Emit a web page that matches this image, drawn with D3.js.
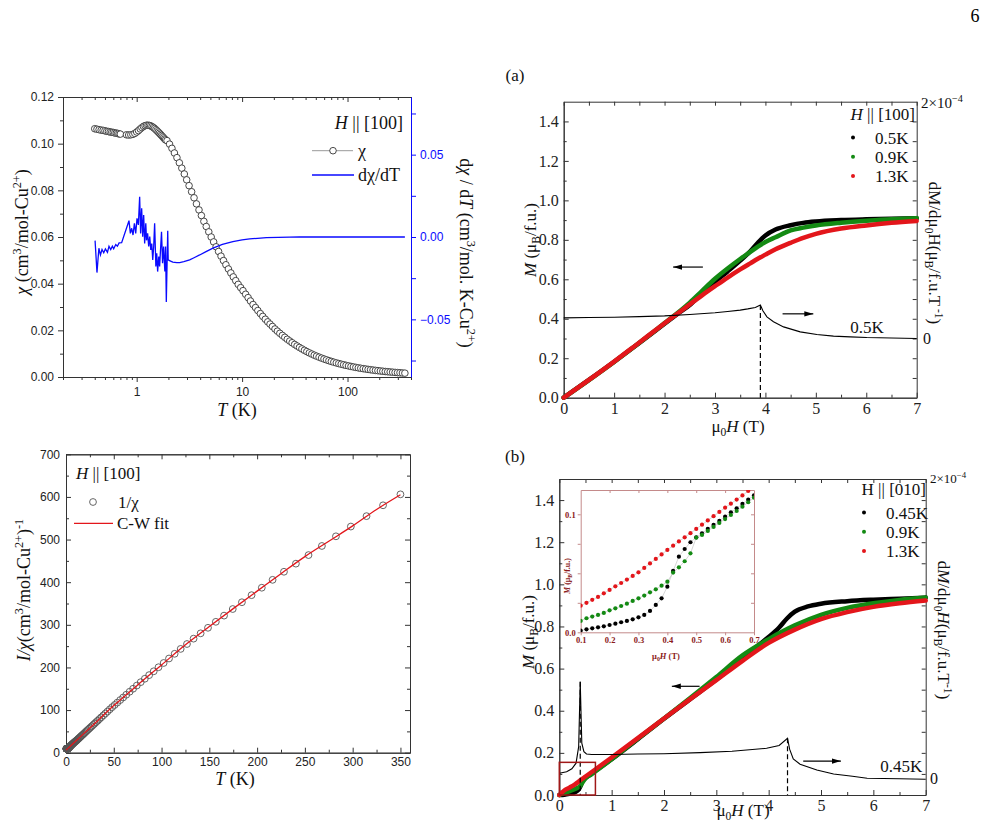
<!DOCTYPE html>
<html>
<head>
<meta charset="utf-8">
<script src="https://cdn.jsdelivr.net/npm/d3@7"></script>
<style>
  body { margin: 0; background: #fff; }
  svg { display: block; }
</style>
</head>
<body>
<svg id="fig" width="994" height="822"></svg>
<script>
// ---- susceptibility chi(T), H || [100] ----
const chiT = [
  0.40, 0.42, 0.44, 0.46, 0.48, 0.50, 0.52, 0.54, 0.56, 0.58, 0.60, 0.62, 0.64, 0.66, 0.68, 0.70,
  0.80, 0.84, 0.88, 0.92, 0.96, 1.00, 1.04, 1.08, 1.12, 1.16, 1.20, 1.24, 1.28, 1.32, 1.36, 1.40,
  1.44, 1.48, 1.52, 1.56, 1.60, 1.64, 1.68, 1.72, 1.76, 1.80, 1.84, 1.88,
  1.94, 2.05, 2.16, 2.28, 2.41, 2.54, 2.68, 2.83, 2.98, 3.14, 3.32, 3.50, 3.69, 3.90, 4.11, 4.34,
  4.57, 4.83, 5.09, 5.37, 5.67, 5.98, 6.31, 6.66, 7.02, 7.41, 7.82, 8.25, 8.70, 9.18, 9.69, 10.2,
  10.8, 11.4, 12.0, 12.7, 13.4, 14.1, 14.9, 15.7, 16.6, 17.5, 18.4, 19.4, 20.5, 21.6, 22.8, 24.1,
  25.4, 26.8, 28.3, 29.8, 31.5, 33.2, 35.0, 36.9, 39.0, 41.1, 43.4, 45.8, 48.3, 50.9, 53.7, 56.7,
  59.8, 63.1, 66.6, 70.2, 74.1, 78.2, 82.5, 87.0, 91.8, 96.8, 102.2, 107.8, 113.7, 120.0, 126.6,
  133.5, 140.9, 148.6, 156.8, 165.4, 174.5, 184.1, 194.2, 204.9, 216.2, 228.1, 240.6, 253.8,
  267.8, 282.5, 298.1, 314.5, 331.8, 350.0
]
const chiV = [
  0.1064, 0.1062, 0.1060, 0.1058, 0.1057, 0.1055, 0.1053, 0.1052, 0.1050, 0.1049, 0.1048, 0.1046, 0.1045, 0.1044, 0.1042, 0.1041,
  0.1038, 0.1037, 0.1038, 0.1040, 0.1044, 0.1050, 0.1056, 0.1063, 0.1069, 0.1074, 0.1077, 0.1079, 0.1079, 0.1078, 0.1076, 0.1073,
  0.1069, 0.1065, 0.1060, 0.1055, 0.1050, 0.1045, 0.1040, 0.1035, 0.1030, 0.1025, 0.1020, 0.1016,
  0.1013, 0.0998, 0.0980, 0.0960, 0.0940, 0.0918, 0.0895, 0.0870, 0.0845, 0.0820, 0.0794, 0.0768, 0.0742, 0.0716, 0.0692, 0.0667,
  0.0645, 0.0622, 0.0600, 0.0579, 0.0558, 0.0538, 0.0518, 0.0499, 0.0481, 0.0463, 0.0446, 0.0429, 0.0413, 0.0397, 0.0383, 0.0370,
  0.03546, 0.03401, 0.03257, 0.03106, 0.02976, 0.02849, 0.02717, 0.02597, 0.02475, 0.02364, 0.02268, 0.02165, 0.02058, 0.01965, 0.01873, 0.01783,
  0.01701, 0.01618, 0.01541, 0.01468, 0.01395, 0.01330, 0.01266, 0.01205, 0.01144, 0.01089, 0.01035, 0.009833, 0.009355, 0.008929, 0.008511, 0.008097,
  0.007722, 0.007353, 0.006993, 0.006667, 0.006349, 0.006042, 0.005764, 0.005495, 0.005236, 0.004988, 0.004751, 0.004525, 0.004310, 0.004107, 0.003922,
  0.003738, 0.003571, 0.003413, 0.003257, 0.003110, 0.002967, 0.002833, 0.002706, 0.002584, 0.002466, 0.002356, 0.002255, 0.002157,
  0.002062, 0.001970, 0.001885, 0.001802, 0.001723, 0.001650
]

// d(chi)/dT, right axis of the top-left panel
const dchiT = [
  0.403, 0.42, 0.438, 0.453, 0.469, 0.487, 0.505, 0.528, 0.546, 0.567, 0.588, 0.605, 0.633, 0.656, 0.681, 0.72,
  0.845, 0.871, 0.897, 0.923, 0.951, 0.979, 1.007, 1.037, 1.067, 1.09, 1.115, 1.14, 1.165, 1.19, 1.22, 1.24,
  1.27, 1.30, 1.33, 1.36, 1.39, 1.42, 1.45, 1.48, 1.52, 1.55, 1.58, 1.62, 1.65, 1.69, 1.72, 1.76, 1.80, 1.85,
  1.88, 1.91, 1.97, 1.99, 2.05, 2.2, 2.4, 2.56, 2.8, 3.18, 3.5, 3.96, 4.5, 5.29, 6.5, 8.17, 10, 11.8, 14, 17,
  22, 28, 35, 50, 100, 200, 350
]
const dchiV = [
  -0.0022, -0.0216, -0.0068, -0.0109, -0.0076, -0.0096, -0.0072, -0.0093, -0.0056, -0.0076, -0.0056, -0.0072, -0.0046, -0.0056, -0.0036, -0.0034,
  0.0099, 0.0022, 0.0053, 0.0012, 0.0083, 0.0022, 0.0113, 0.0073, 0.0244, 0.0022, 0.0174, 0.0002, 0.0133, -0.0040, 0.0083, -0.0020,
  0.0022, -0.0058, 0.0002, -0.0078, -0.0040, -0.0139, -0.0058, 0.0083, -0.0179, -0.0099, -0.0210, -0.0119, -0.0179, -0.0058, 0.0032, -0.0159, -0.0058, -0.0210,
  -0.0058, -0.0395, 0.0038, -0.0139, -0.0143, -0.0152, -0.0156, -0.0155, -0.0150, -0.0139, -0.0126, -0.0109, -0.0090, -0.0068, -0.0045, -0.0028, -0.0018, -0.0012, -0.0008, -0.0004,
  -0.0002, -0.0001, 0, 0, 0, 0, 0
]

// Curie-Weiss fit of 1/chi
const fitT = [0, 10, 25, 50, 75, 100, 125, 150, 175, 200, 225, 250, 275, 300, 325, 350]
const fitV = [6, 27, 58, 110.5, 159, 206, 253, 296, 338, 379, 420, 460, 496, 532, 570.5, 605]

// ---- (a) M(H), H || [100] ----
const aH = [0, 0.5, 1, 1.5, 2, 2.25, 2.5, 2.75, 3, 3.25, 3.5, 3.7, 3.85, 4, 4.2, 4.5, 4.75, 5, 5.5, 6, 6.5, 7]
const aM05 = [0, 0.09, 0.182, 0.277, 0.375, 0.423, 0.47, 0.53, 0.587, 0.64, 0.695, 0.742, 0.785, 0.822, 0.852, 0.874, 0.886, 0.893, 0.9, 0.904, 0.907, 0.909]
const aM09 = [0, 0.089, 0.181, 0.278, 0.378, 0.428, 0.482, 0.543, 0.603, 0.655, 0.703, 0.739, 0.766, 0.789, 0.813, 0.848, 0.862, 0.873, 0.887, 0.897, 0.904, 0.91]
const aM13 = [0, 0.09, 0.183, 0.28, 0.377, 0.425, 0.473, 0.52, 0.565, 0.609, 0.65, 0.681, 0.704, 0.725, 0.752, 0.785, 0.81, 0.83, 0.857, 0.873, 0.886, 0.896]
// dM/dH at 0.5 K, in units of 1e-4
const aDH = [0, 0.5, 1, 1.5, 2, 2.5, 3, 3.25, 3.5, 3.65, 3.8, 3.9, 3.95, 4.03, 4.16, 4.36, 4.69, 5.02, 5.35, 5.68, 6.01, 6.5, 7]
const aDV = [0.174, 0.177, 0.18, 0.185, 0.191, 0.203, 0.217, 0.228, 0.24, 0.25, 0.262, 0.282, 0.234, 0.183, 0.141, 0.098, 0.056, 0.034, 0.02, 0.014, 0.008, 0.004, 0.0]
const aPeak = 3.9

// ---- (b) M(H), H || [010] ----
const bH45 = [0, 0.1, 0.2, 0.3, 0.36, 0.4, 0.44, 0.5, 0.6, 0.7, 1, 1.5, 2, 2.5, 3, 3.5, 3.8, 4, 4.2, 4.35, 4.5, 4.75, 5, 5.5, 6, 6.5, 7]
const bM45 = [0, 0.0014, 0.0062, 0.0127, 0.0232, 0.0387, 0.0641, 0.0805, 0.098, 0.1161, 0.17, 0.265, 0.362, 0.455, 0.548, 0.647, 0.71, 0.75, 0.795, 0.838, 0.87, 0.895, 0.908, 0.92, 0.927, 0.932, 0.937]
const bH = [0, 0.1, 0.2, 0.3, 0.4, 0.5, 0.6, 0.7, 1, 1.5, 2, 2.5, 3, 3.5, 4, 4.5, 5, 5.5, 6, 6.5, 7]
const bM09 = [0, 0.0096, 0.0186, 0.0288, 0.0429, 0.0802, 0.096, 0.1141, 0.17, 0.267, 0.363, 0.46, 0.56, 0.663, 0.74, 0.805, 0.855, 0.888, 0.91, 0.926, 0.937]
const bM13 = [0, 0.0226, 0.0359, 0.0508, 0.0698, 0.0876, 0.1056, 0.1235, 0.178, 0.27, 0.363, 0.455, 0.545, 0.637, 0.722, 0.785, 0.835, 0.868, 0.893, 0.91, 0.923]
const bDH = [0, 0.14, 0.24, 0.32, 0.37, 0.40, 0.43, 0.47, 0.52, 0.62, 1.0, 1.5, 2.0, 2.69, 3.3, 3.96, 4.2, 4.36, 4.40, 4.47, 4.6, 4.92, 5.24, 5.6, 5.88, 6.5, 7.0]
const bDV = [0.040, 0.050, 0.070, 0.107, 0.217, 0.650, 0.240, 0.184, 0.168, 0.165, 0.165, 0.168, 0.170, 0.177, 0.186, 0.206, 0.225, 0.273, 0.200, 0.135, 0.100, 0.062, 0.035, 0.020, 0.007, 0.003, 0.0]
const bPeaks = [0.40, 4.36]

// inset of (b): low-field M(H)
const inH = [0.10, 0.12, 0.14, 0.16, 0.18, 0.20, 0.22, 0.24, 0.26, 0.28, 0.30, 0.32, 0.34, 0.36, 0.38, 0.40,
  0.42, 0.44, 0.46, 0.48, 0.50, 0.52, 0.54, 0.56, 0.58, 0.60, 0.62, 0.64, 0.66, 0.68, 0.70]
const in45 = [0.0014, 0.0025, 0.0034, 0.0042, 0.0051, 0.0062, 0.0073, 0.0085, 0.0096, 0.0110, 0.0127, 0.0147, 0.0181, 0.0232, 0.0288, 0.0387,
  0.0520, 0.0641, 0.0706, 0.0763, 0.0805, 0.0839, 0.0876, 0.0910, 0.0944, 0.0980, 0.1017, 0.1051, 0.1088, 0.1124, 0.1161]
const in09 = [0.0096, 0.0119, 0.0133, 0.0147, 0.0164, 0.0186, 0.0203, 0.0223, 0.0243, 0.0266, 0.0288, 0.0311, 0.0339, 0.0364, 0.0395, 0.0429,
  0.0506, 0.0551, 0.0602, 0.0669, 0.0802, 0.0825, 0.0859, 0.0893, 0.0927, 0.0960, 0.0994, 0.1028, 0.1065, 0.1102, 0.1141]
const in13 = [0.0226, 0.0250, 0.0275, 0.0300, 0.0330, 0.0359, 0.0390, 0.0418, 0.0447, 0.0478, 0.0508, 0.0546, 0.0584, 0.0622, 0.0660, 0.0698,
  0.0734, 0.0770, 0.0805, 0.0840, 0.0876, 0.0912, 0.0948, 0.0984, 0.1020, 0.1056, 0.1090, 0.1125, 0.1160, 0.1198]

const logMajor = [1, 10, 100]
const logMinor = [0.2, 0.3, 0.4, 0.5, 0.6, 0.7, 0.8, 0.9, 2, 3, 4, 5, 6, 7, 8, 9, 20, 30, 40, 50, 60, 70, 80, 90, 200, 300, 400]

const SERIF = "'Liberation Serif', 'Times New Roman', serif"
const SANS = "'Liberation Sans', Arial, sans-serif"
const BLUE = '#0a0aff'
const GREEN = '#138a13'
const RED = '#e3161b'
const INK = '#8b1a1a'

const svg = d3.select('#fig')
svg.append('rect').attr('width', 994).attr('height', 822).attr('fill', '#fff')

const defs = svg.append('defs')
defs.append('marker')
  .attr('id', 'arr')
  .attr('viewBox', '0 0 10 10')
  .attr('refX', 10).attr('refY', 5)
  .attr('markerWidth', 9).attr('markerHeight', 9)
  .attr('markerUnits', 'userSpaceOnUse')
  .attr('orient', 'auto')
  .append('path').attr('d', 'M0,2 L10,5 L0,8 Z').attr('fill', '#000')

// axis helper
function addAxis(parent, gen, tx, ty, o = {}) {
  const g = parent.append('g')
    .attr('transform', `translate(${tx},${ty})`)
    .call(gen)
    .attr('font-family', o.font || SANS)
    .attr('font-size', o.size || 12)
  const c = o.color || '#333'
  g.select('.domain').attr('stroke', c).attr('stroke-width', o.width || 1)
  g.selectAll('.tick line').attr('stroke', c)
  g.selectAll('.tick text').attr('fill', o.textColor || '#222').attr('font-weight', o.weight || null)
  return g
}

// text with italic / sub / sup pieces
function rich(parent, x, y, segs, size, o = {}) {
  const t = parent.append('text')
    .attr('transform', `translate(${x},${y}) rotate(${o.rot || 0})`)
    .attr('text-anchor', o.anchor || 'middle')
    .attr('font-family', o.font || SERIF)
    .attr('font-size', size)
    .attr('font-weight', o.weight || null)
    .attr('fill', o.fill || '#111')
  let shift = 0
  segs.forEach(([s, st = '']) => {
    const sup = st.includes('sup'), sub = st.includes('sub')
    const target = sup ? -size * 0.38 : sub ? size * 0.25 : 0
    const ts = t.append('tspan').text(s)
      .attr('dy', target - shift)
      .attr('font-size', (sup || sub) ? size * 0.68 : size)
    if (st.includes('i')) ts.attr('font-style', 'italic')
    shift = target
  })
  return t
}

function arrow(parent, x1, y1, x2, y2) {
  parent.append('line')
    .attr('x1', x1).attr('y1', y1).attr('x2', x2).attr('y2', y2)
    .attr('stroke', '#000').attr('stroke-width', 1.2)
    .attr('marker-end', 'url(#arr)')
}

// page number
svg.append('text').attr('x', 975).attr('y', 22).attr('text-anchor', 'middle')
  .attr('font-family', SERIF).attr('font-size', 18).text('6')

// ================= top-left: chi(T) =================
const p1 = svg.append('g')
const x1 = d3.scaleLog().domain([0.2, 400]).range([63, 411])
const y1 = d3.scaleLinear().domain([0, 0.12]).range([377, 97])
const y1r = d3.scaleLinear().domain([-0.085, 0.085]).range([377, 97])

addAxis(p1, d3.axisBottom(x1).tickValues(logMinor).tickSize(3).tickFormat('').tickSizeOuter(0), 0, 377)
addAxis(p1, d3.axisBottom(x1).tickValues(logMajor).tickSize(5).tickPadding(5).tickFormat(d3.format('d')).tickSizeOuter(0), 0, 377)
addAxis(p1, d3.axisBottom(x1).tickValues(logMinor).tickSize(3).tickFormat('').tickSizeOuter(0), 0, 97)
addAxis(p1, d3.axisBottom(x1).tickValues(logMajor).tickSize(5).tickFormat('').tickSizeOuter(0), 0, 97)
addAxis(p1, d3.axisLeft(y1).tickValues([0.01, 0.03, 0.05, 0.07, 0.09, 0.11]).tickSize(3).tickFormat('').tickSizeOuter(0), 63, 0)
addAxis(p1, d3.axisLeft(y1).tickValues([0, 0.02, 0.04, 0.06, 0.08, 0.1, 0.12]).tickSize(5).tickPadding(4).tickFormat(d3.format('.2f')).tickSizeOuter(0), 63, 0)
addAxis(p1, d3.axisRight(y1r).tickValues([-0.075, -0.05, -0.025, 0, 0.025, 0.05, 0.075]).tickSize(5).tickPadding(4)
  .tickFormat(d => Math.abs(d * 1000) % 50 === 0 ? d3.format('.2f')(d) : '').tickSizeOuter(0), 411, 0,
  { color: BLUE, textColor: BLUE })

p1.append('g').selectAll('circle')
  .data(d3.zip(chiT, chiV))
  .join('circle')
  .attr('cx', d => x1(d[0])).attr('cy', d => y1(d[1])).attr('r', 3.3)
  .attr('fill', '#fff').attr('stroke', '#333').attr('stroke-width', 0.9)

p1.append('path')
  .datum(d3.zip(dchiT, dchiV))
  .attr('d', d3.line().x(d => x1(d[0])).y(d => y1r(d[1])))
  .attr('fill', 'none').attr('stroke', BLUE).attr('stroke-width', 1.3)

rich(p1, 28, 232, [['χ', 'i'], [' (cm'], ['3', 'sup'], ['/mol-Cu'], ['2+', 'sup'], [')']], 18, { rot: -90 })
rich(p1, 237, 416, [['T', 'i'], [' (K)']], 18)
rich(p1, 460, 253, [['d'], ['χ', 'i'], [' / d'], ['T', 'i'], [' (cm'], ['3', 'sup'], ['/mol. K-Cu'], ['2+', 'sup'], [')']], 18, { rot: 90 })

// legend
rich(p1, 403, 129, [['H', 'i'], [' || [100]']], 18, { anchor: 'end' })
p1.append('line').attr('x1', 312).attr('x2', 353).attr('y1', 150.7).attr('y2', 150.7).attr('stroke', '#999')
p1.append('circle').attr('cx', 333).attr('cy', 150.7).attr('r', 3.3).attr('fill', '#fff').attr('stroke', '#333').attr('stroke-width', 0.9)
rich(p1, 358, 157, [['χ']], 18, { anchor: 'start' })
p1.append('line').attr('x1', 312).attr('x2', 354).attr('y1', 175).attr('y2', 175).attr('stroke', BLUE).attr('stroke-width', 1.3)
rich(p1, 358, 181, [['dχ/dT']], 18, { anchor: 'start' })

// ================= bottom-left: 1/chi(T) =================
const p3 = svg.append('g')
const x3 = d3.scaleLinear().domain([0, 360]).range([66, 410])
const y3 = d3.scaleLinear().domain([0, 700]).range([752.7, 454.3])

addAxis(p3, d3.axisBottom(x3).tickValues(d3.range(25, 360, 50)).tickSize(-3).tickFormat('').tickSizeOuter(0), 0, 752.7)
addAxis(p3, d3.axisBottom(x3).tickValues(d3.range(0, 351, 50)).tickSize(-5).tickPadding(5).tickFormat(d3.format('d')).tickSizeOuter(0), 0, 752.7)
addAxis(p3, d3.axisBottom(x3).tickValues(d3.range(25, 360, 50)).tickSize(3).tickFormat('').tickSizeOuter(0), 0, 454.3)
addAxis(p3, d3.axisBottom(x3).tickValues(d3.range(0, 351, 50)).tickSize(5).tickFormat('').tickSizeOuter(0), 0, 454.3)
addAxis(p3, d3.axisLeft(y3).tickValues(d3.range(50, 700, 100)).tickSize(-3).tickFormat('').tickSizeOuter(0), 66, 0)
addAxis(p3, d3.axisLeft(y3).tickValues(d3.range(0, 701, 100)).tickSize(-5).tickPadding(6).tickFormat(d3.format('d')).tickSizeOuter(0), 66, 0)
addAxis(p3, d3.axisLeft(y3).tickValues(d3.range(50, 700, 100)).tickSize(3).tickFormat('').tickSizeOuter(0), 410, 0)
addAxis(p3, d3.axisLeft(y3).tickValues(d3.range(0, 701, 100)).tickSize(5).tickFormat('').tickSizeOuter(0), 410, 0)

p3.append('g').selectAll('circle')
  .data(d3.zip(chiT, chiV))
  .join('circle')
  .attr('cx', d => x3(d[0])).attr('cy', d => y3(1 / d[1])).attr('r', 3.4)
  .attr('fill', 'none').attr('stroke', '#555').attr('stroke-width', 0.9)

p3.append('path')
  .datum(d3.zip(fitT, fitV))
  .attr('d', d3.line().curve(d3.curveMonotoneX).x(d => x3(d[0])).y(d => y3(d[1])))
  .attr('fill', 'none').attr('stroke', RED).attr('stroke-width', 1.3)

rich(p3, 30, 590, [['I/χ', 'i'], ['(cm'], ['3', 'sup'], ['/mol-Cu'], ['2+', 'sup'], [')'], ['-1', 'sup']], 18, { rot: -90 })
rich(p3, 235, 785, [['T', 'i'], [' (K)']], 18)

rich(p3, 76, 479, [['H', 'i'], [' || [100]']], 17, { anchor: 'start' })
p3.append('circle').attr('cx', 93).attr('cy', 502).attr('r', 3.4).attr('fill', 'none').attr('stroke', '#555').attr('stroke-width', 0.9)
rich(p3, 118, 508, [['1/χ']], 17, { anchor: 'start' })
p3.append('line').attr('x1', 74).attr('x2', 113).attr('y1', 523.3).attr('y2', 523.3).attr('stroke', RED).attr('stroke-width', 1.3)
rich(p3, 117, 529, [['C-W fit']], 17, { anchor: 'start' })

// ================= shared builder for the M(H) panels =================
function frameMH(g, xs, ys, left, right, top, bottom) {
  const fmt = { font: SERIF, size: 16 }
  addAxis(g, d3.axisBottom(xs).tickValues(d3.range(0.5, 7, 1)).tickSize(-3).tickFormat('').tickSizeOuter(0), 0, bottom, fmt)
  addAxis(g, d3.axisBottom(xs).tickValues(d3.range(0, 8)).tickSize(-5).tickPadding(5).tickFormat(d3.format('d')).tickSizeOuter(0), 0, bottom, fmt)
  addAxis(g, d3.axisBottom(xs).tickValues(d3.range(0, 7.1, 0.5)).tickSize(4).tickFormat('').tickSizeOuter(0), 0, top, fmt)
  addAxis(g, d3.axisLeft(ys).tickValues(d3.range(0.1, 1.5, 0.2)).tickSize(-3).tickFormat('').tickSizeOuter(0), left, 0, fmt)
  addAxis(g, d3.axisLeft(ys).tickValues(d3.range(0, 1.41, 0.2)).tickSize(-5).tickPadding(5).tickFormat(d3.format('.1f')).tickSizeOuter(0), left, 0, fmt)
  addAxis(g, d3.axisLeft(ys).tickValues(d3.range(0.1, 1.45, 0.1)).tickSize(4).tickFormat('').tickSizeOuter(0), right, 0, fmt)
}

function thickCurve(g, xs, ys, H, M, color) {
  g.append('path')
    .datum(d3.zip(H, M))
    .attr('d', d3.line().curve(d3.curveMonotoneX).x(d => xs(d[0])).y(d => ys(d[1])))
    .attr('fill', 'none').attr('stroke', color).attr('stroke-width', 4.5)
    .attr('stroke-linecap', 'round')
}

function thinCurve(g, xs, ys, H, V) {
  g.append('path')
    .datum(d3.zip(H, V))
    .attr('d', d3.line().x(d => xs(d[0])).y(d => ys(d[1])))
    .attr('fill', 'none').attr('stroke', '#000').attr('stroke-width', 1.1)
}

function dmLabel(g, x, y, italic) {
  const segs = italic
    ? [['d'], ['M', 'i'], ['/dμ'], ['0', 'sub'], ['H', 'i'], ['(μ'], ['B', 'sub'], ['/f.u.T'], ['-1', 'sup'], [')']]
    : [['dM/dμ'], ['0', 'sub'], ['H(μ'], ['B', 'sub'], ['/f.u.T'], [' -1', 'sup'], [')']]
  rich(g, x, y, segs, 17, { rot: 90 })
}

function legendMH(g, x, yTop, title, labels) {
  rich(g, x, yTop, title, 17, { anchor: 'end' })
  const colors = ['#000', GREEN, RED]
  labels.forEach((lab, i) => {
    const yy = yTop + 17.5 + i * 19.2
    g.append('circle').attr('cx', x - 62).attr('cy', yy).attr('r', 2).attr('fill', colors[i])
    rich(g, x - 40, yy + 6, [[lab]], 17, { anchor: 'start' })
  })
}

// ================= (a) =================
const pa = svg.append('g')
const xa = d3.scaleLinear().domain([0, 7]).range([563.7, 916.7])
const ya = d3.scaleLinear().domain([0, 1.5]).range([397.7, 101.7])
const yaR = d3.scaleLinear().domain([-0.5, 2]).range([397.7, 101.7]) // x 1e-4

frameMH(pa, xa, ya, 563.7, 916.7, 101.7, 397.7)
thickCurve(pa, xa, ya, aH, aM05, '#000')
thickCurve(pa, xa, ya, aH, aM09, GREEN)
thickCurve(pa, xa, ya, aH, aM13, RED)
thinCurve(pa, xa, yaR, aDH, aDV)
pa.append('line')
  .attr('x1', xa(aPeak)).attr('x2', xa(aPeak))
  .attr('y1', yaR(aDV[aDH.indexOf(aPeak)])).attr('y2', ya(0))
  .attr('stroke', '#000').attr('stroke-width', 1.2).attr('stroke-dasharray', '5,3')

arrow(pa, xa(2.76), ya(0.662), xa(2.17), ya(0.662))
arrow(pa, xa(4.34), ya(0.425), xa(4.95), ya(0.425))
rich(pa, xa(5.68), ya(0.328), [['0.5K']], 17, { anchor: 'start' })

rich(pa, 923, yaR(0) + 5, [['0']], 16, { anchor: 'start' })
rich(pa, 921, 108, [['2×10'], ['−4', 'sup']], 15, { anchor: 'start' })
rich(pa, 536, 240, [['M', 'i'], [' (μ'], ['B', 'sub'], ['/f.u.)']], 17, { rot: -90 })
rich(pa, 738, 432, [['μ'], ['0', 'sub'], ['H', 'i'], [' (T)']], 17)
dmLabel(pa, 929, 253, false)
legendMH(pa, 915, 120, [['H', 'i'], [' || [100]']], ['0.5K', '0.9K', '1.3K'])
rich(pa, 515, 81, [['(a)']], 17)

// ================= (b) =================
const pb = svg.append('g')
const xb = d3.scaleLinear().domain([0, 7]).range([559.3, 925.7])
const yb = d3.scaleLinear().domain([0, 1.5]).range([795, 479])
const ybR = d3.scaleLinear().domain([-0.105, 2]).range([795, 479]) // x 1e-4

frameMH(pb, xb, yb, 559.3, 925.7, 479, 795)
thickCurve(pb, xb, yb, bH45, bM45, '#000')
thickCurve(pb, xb, yb, bH, bM09, GREEN)
thickCurve(pb, xb, yb, bH, bM13, RED)
thinCurve(pb, xb, ybR, bDH, bDV)
bPeaks.forEach(h => {
  pb.append('line')
    .attr('x1', xb(h)).attr('x2', xb(h))
    .attr('y1', ybR(bDV[bDH.indexOf(h)])).attr('y2', yb(0))
    .attr('stroke', '#000').attr('stroke-width', 1.2).attr('stroke-dasharray', '5,3')
})
pb.append('rect')
  .attr('x', xb(0)).attr('y', yb(0.155))
  .attr('width', xb(0.69) - xb(0)).attr('height', yb(0) - yb(0.155))
  .attr('fill', 'none').attr('stroke', '#a01818').attr('stroke-width', 1.5)

arrow(pb, xb(2.68), yb(0.516), xb(2.15), yb(0.516))
arrow(pb, xb(4.66), yb(0.161), xb(5.38), yb(0.161))
rich(pb, xb(6.13), yb(0.11), [['0.45K']], 17, { anchor: 'start' })

rich(pb, 930, ybR(0) + 5, [['0']], 16, { anchor: 'start' })
rich(pb, 930, 483, [['2×10'], ['−4', 'sup']], 13, { anchor: 'start' })
rich(pb, 534, 632, [['M', 'i'], [' (μ'], ['B', 'sub'], ['/f.u.)']], 17, { rot: -90 })
rich(pb, 743, 816, [['μ'], ['0', 'sub'], ['H', 'i'], [' (T)']], 17)
dmLabel(pb, 938, 630, true)
legendMH(pb, 926, 495, [['H || [010]']], ['0.45K', '0.9K', '1.3K'])
rich(pb, 515, 462, [['(b)']], 17)

// inset
const pi = pb.append('g')
const xi = d3.scaleLinear().domain([0.1, 0.7]).range([580.7, 754])
const yi = d3.scaleLinear().domain([0, 0.1206]).range([632.3, 490])
pi.append('rect').attr('x', 580.7).attr('y', 490).attr('width', 754 - 580.7).attr('height', 632.3 - 490).attr('fill', '#fff')
const inFmt = { font: SERIF, size: 8.5, color: '#c48a8a', textColor: INK, weight: 'bold' }
addAxis(pi, d3.axisBottom(xi).tickValues(d3.range(0.1, 0.71, 0.1)).tickSize(3).tickPadding(2).tickFormat(d3.format('.1f')).tickSizeOuter(0), 0, 632.3, inFmt)
addAxis(pi, d3.axisBottom(xi).tickValues(d3.range(0.2, 0.61, 0.1)).tickSize(3).tickFormat('').tickSizeOuter(0), 0, 490, inFmt)
addAxis(pi, d3.axisLeft(yi).tickValues([0, 0.025, 0.05, 0.075, 0.1]).tickSize(3).tickPadding(2)
  .tickFormat(d => d === 0 ? '0.0' : d === 0.1 ? '0.1' : '').tickSizeOuter(0), 580.7, 0, inFmt)
addAxis(pi, d3.axisLeft(yi).tickValues([0.025, 0.05, 0.075, 0.1]).tickSize(3).tickFormat('').tickSizeOuter(0), 754, 0, inFmt)

const inClip = defs.append('clipPath').attr('id', 'inclip')
inClip.append('rect').attr('x', 580.7).attr('y', 490).attr('width', 754 - 580.7).attr('height', 632.3 - 490)
const inData = pi.append('g').attr('clip-path', 'url(#inclip)')
;[[in45, '#000'], [in09, GREEN], [in13, RED]].forEach(([vals, c]) => {
  const pts = d3.zip(inH.slice(0, vals.length), vals)
  inData.append('path').datum(pts)
    .attr('d', d3.line().x(d => xi(d[0])).y(d => yi(d[1])))
    .attr('fill', 'none').attr('stroke', '#bbb').attr('stroke-width', 0.6)
  inData.append('g').selectAll('circle').data(pts).join('circle')
    .attr('cx', d => xi(d[0])).attr('cy', d => yi(d[1])).attr('r', 2.1).attr('fill', c)
})
rich(pi, 570, 576, [['M', 'i'], [' (μ'], ['B', 'sub'], ['/f.u.)']], 8, { rot: -90, fill: INK, weight: 'bold' })
rich(pi, 666, 659, [['μ'], ['0', 'sub'], ['H', 'i'], [' (T)']], 8.5, { fill: INK, weight: 'bold' })
</script>
</body>
</html>
